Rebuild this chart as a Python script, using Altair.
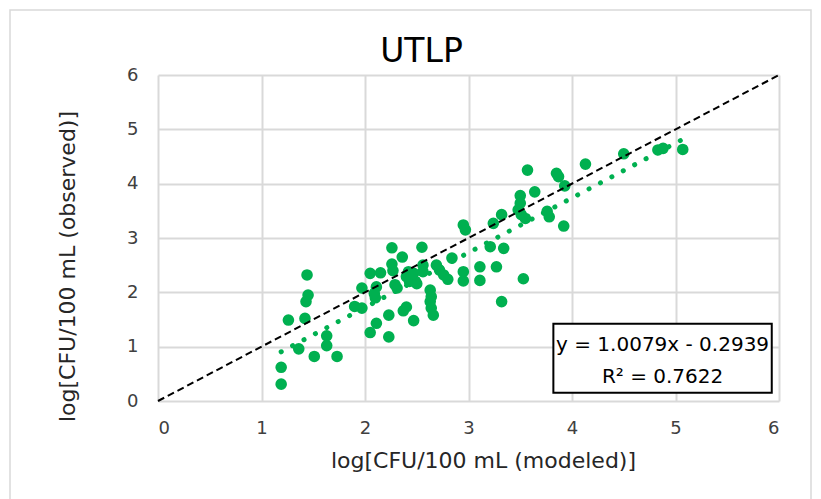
import altair as alt
import pandas as pd

# ---- data ----
modeled = [1.19, 1.19, 1.26, 1.36, 1.44, 1.45, 1.43, 1.42, 1.51, 1.63, 1.63, 1.73,
           1.90, 1.97, 1.97, 2.05, 2.05, 2.11, 2.10, 2.11, 2.09, 2.15,
           2.23, 2.23, 2.26, 2.26, 2.27, 2.29, 2.31, 2.36, 2.37, 2.40, 2.42, 2.40, 2.43, 2.47, 2.50, 2.47,
           2.55, 2.56, 2.56, 2.63, 2.64, 2.63, 2.64, 2.66, 2.69, 2.72, 2.76, 2.80, 2.84,
           2.95, 2.95, 2.95, 2.97, 3.11, 3.11, 3.21, 3.24, 3.27, 3.32, 3.34, 3.32,
           3.50, 3.50, 3.48, 3.51, 3.55, 3.53, 3.57, 3.64, 3.76, 3.78, 3.85, 3.87, 3.93, 3.92,
           4.13, 4.50, 4.83, 4.88, 5.07]
observed = [0.31, 0.62, 1.49, 0.96, 2.32, 1.95, 1.83, 1.52, 0.82, 1.20, 1.02, 0.82,
            1.74, 1.71, 2.08, 2.35, 1.26, 1.43, 1.90, 2.10, 1.98, 2.36,
            1.18, 1.58, 2.82, 2.52, 2.40, 2.14, 2.08, 2.65, 1.66, 1.73, 2.38, 2.29, 2.20, 1.48, 2.16, 2.35,
            2.83, 2.50, 2.38, 2.04, 1.92, 1.83, 1.71, 1.58, 2.50, 2.41, 2.32, 2.24, 2.63,
            2.38, 2.21, 3.24, 3.15, 2.47, 2.22, 2.84, 3.27, 2.47, 3.43, 2.81, 1.83,
            3.78, 3.64, 3.52, 3.43, 3.36, 2.25, 4.25, 3.85, 3.49, 3.39, 4.19, 4.13, 3.96, 3.22,
            4.36, 4.55, 4.62, 4.65, 4.63]

slope = 1.0079
intercept = -0.2939
r_squared = 0.7622
ticks = [0, 1, 2, 3, 4, 5, 6]

eq_lines = ["y = 1.0079x - 0.2939", "R² = 0.7622"]

pts = pd.DataFrame({"modeled": modeled, "observed": observed})
x_lo, x_hi = min(modeled), max(modeled)
trend = pd.DataFrame({"modeled": [x_lo, x_hi],
                      "observed": [slope * x_lo + intercept, slope * x_hi + intercept]})
diag = pd.DataFrame({"modeled": [0, 6], "observed": [0, 6]})

FONT = "DejaVu Sans"
GREEN = "#00B050"

xs = alt.Scale(domain=[0, 6], nice=False)
ys = alt.Scale(domain=[0, 6], nice=False)

x_axis = alt.Axis(values=ticks, format="d", title="log[CFU/100 mL (modeled)]", grid=True,
                  titleX=325, titleY=66, titleBaseline="alphabetic", titleAlign="center",
                  labelPadding=18)
y_axis = alt.Axis(values=ticks, format="d", title="log[CFU/100 mL (observed)]", grid=True,
                  titleX=-84, titleY=191, titleBaseline="alphabetic", titleAlign="center",
                  titleAngle=270, labelPadding=20)

base = alt.Chart(pts)

points = base.mark_circle(size=135, opacity=1, color=GREEN).encode(
    x=alt.X("modeled:Q", scale=xs, axis=x_axis),
    y=alt.Y("observed:Q", scale=ys, axis=y_axis),
)

trend_line = alt.Chart(trend).mark_line(
    color=GREEN, strokeWidth=5, strokeDash=[0.1, 12.8], strokeCap="round"
).encode(x=alt.X("modeled:Q", scale=xs), y=alt.Y("observed:Q", scale=ys))

diag_line = alt.Chart(diag).mark_line(
    color="#000000", strokeWidth=2, strokeDash=[7, 4]
).encode(x=alt.X("modeled:Q", scale=xs), y=alt.Y("observed:Q", scale=ys))

box_df = pd.DataFrame({"x1": [3.82], "x2": [5.93], "y1": [0.15], "y2": [1.42]})
eq_box = alt.Chart(box_df).mark_rect(fill="white", stroke="black", strokeWidth=2).encode(
    x=alt.X("x1:Q", scale=xs), x2="x2:Q", y=alt.Y("y1:Q", scale=ys), y2="y2:Q")

eq_df = pd.DataFrame({"x": [4.875, 4.875], "y": [1.03, 0.44], "t": eq_lines})
eq_text = alt.Chart(eq_df).mark_text(font=FONT, fontSize=20, color="#000000",
                                     align="center", baseline="middle").encode(
    x=alt.X("x:Q", scale=xs), y=alt.Y("y:Q", scale=ys), text="t:N")

frame = alt.Chart(pd.DataFrame({"a": [0]})).mark_rect(
    fillOpacity=0, stroke="#d9d9d9", strokeWidth=1.5, clip=False
).encode(x=alt.value(-148), x2=alt.value(653), y=alt.value(-65), y2=alt.value(520))

chart = alt.layer(frame, points, trend_line, diag_line, eq_box, eq_text).properties(
    width=621, height=326,
    background="white",
    autosize=alt.AutoSizeParams(type="none"),
    padding={"left": 158, "top": 75, "right": 42, "bottom": 98},
    title=alt.TitleParams("UTLP", font=FONT, fontSize=33, fontWeight="normal", color="#000000",
                          anchor="middle", frame="group", dx=-47, dy=99, offset=13,
                          baseline="alphabetic"),
).configure_view(strokeWidth=0).configure_axis(
    gridColor="#d9d9d9", gridWidth=2, domain=False, ticks=False,
    labelFont=FONT, labelFontSize=18, labelColor="#404040",
    titleFont=FONT, titleFontSize=22, titleFontWeight="normal", titleColor="#262626",
)

chart.save("out.html", embed_options={"renderer": "svg", "actions": False})
